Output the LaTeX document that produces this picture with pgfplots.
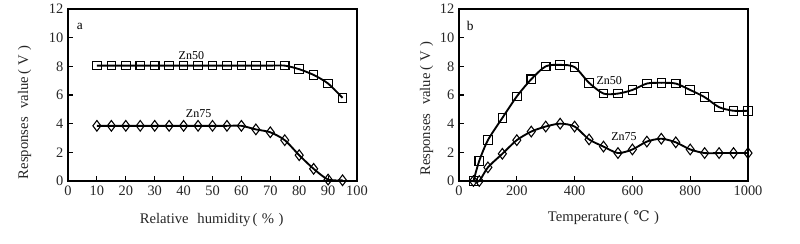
\documentclass[border=0pt]{standalone}
\usepackage{pgfplots}
\pgfplotsset{compat=1.18}
\usepackage{fontspec}
\setmainfont{Liberation Serif}
\newfontfamily\dejavu{DejaVu Serif}
\pgfplotstableread{
x y
10 8.05
15 8.05
20 8.05
25 8.05
30 8.05
35 8.05
40 8.05
45 8.05
50 8.05
55 8.05
60 8.05
65 8.05
70 8.05
75 8.05
80 7.8
85 7.4
90 6.8
95 5.8
}\leftA
\pgfplotstableread{
x y
10 3.85
15 3.85
20 3.85
25 3.85
30 3.85
35 3.85
40 3.85
45 3.85
50 3.85
55 3.85
60 3.85
65 3.6
70 3.4
75 2.85
80 1.8
85 0.85
90 0.1
95 0.05
}\leftB
\pgfplotstableread{
x y
50 0
70 1.4
100 2.85
150 4.4
200 5.9
250 7.1
300 8.0
350 8.1
400 7.95
450 6.85
500 6.1
550 6.1
600 6.35
650 6.8
700 6.85
750 6.8
800 6.35
850 5.85
900 5.15
950 4.9
1000 4.9
}\rightA
\pgfplotstableread{
x y
50 0
70 0
100 0.95
150 1.9
200 2.85
250 3.45
300 3.8
350 4.0
400 3.8
450 2.9
500 2.4
550 1.95
600 2.2
650 2.75
700 2.95
750 2.7
800 2.2
850 1.95
900 1.95
950 1.95
1000 1.95
}\rightB
\pgfplotsset{
  myaxis/.style={
    scale only axis, width=216.75pt, height=129pt,
    anchor=south west,
    ymin=0, ymax=12, ytick={0,2,...,12},
    tick align=inside, xtick pos=bottom, ytick pos=left,
    major tick length=3.5pt,
    axis line style={line width=1pt},
    every tick/.style={line width=0.8pt, black},
    tick label style={font=\fontsize{10.8}{12}\selectfont, text=black!85},
    label style={font=\fontsize{11}{13}\selectfont, text=black!85},
    /pgf/number format/assume math mode=true,
    /pgf/number format/1000 sep={},
    clip=false,
  },
  l50/.style={black, line width=1.4pt, smooth, tension=0.45, mark=square, mark size=3.2pt, mark options={line width=0.8pt, solid, fill=none}},
  l75/.style={black, line width=1.4pt, smooth, tension=0.45, mark=diamond, mark size=4pt, mark options={line width=0.8pt, solid, fill=none}},
}
\newcommand\paren[1]{\hspace{0.15em}(\hspace{0.3em}#1\hspace{0.3em})}
\begin{document}
\begin{tikzpicture}
\useasboundingbox (0,0) rectangle (600pt,182.25pt);
\begin{axis}[myaxis, at={(51pt,46.5pt)},
  xmin=0, xmax=100, xtick={0,10,...,100},
  xlabel={Relative\hspace{0.6em}humidity\paren{\%}},
  ylabel={Responses\hspace{0.6em}value\paren{V}},
  xlabel style={at={(axis description cs:0.497,-0.227)}, anchor=center},
  ylabel style={at={(axis description cs:-0.15,0.40)}, anchor=center},
]
\addplot[l50] table {\leftA};
\addplot[l75] table {\leftB};
\node[font=\fontsize{9}{10}\selectfont] at (axis cs:42.7,8.75) {Zn50};
\node[font=\fontsize{9}{10}\selectfont] at (axis cs:45.2,4.7) {Zn75};
\node[font=\fontsize{10}{11}\selectfont] at (axis cs:4.1,10.8) {a};
\end{axis}
\begin{axis}[myaxis, at={(344.25pt,46.5pt)},
  xmin=0, xmax=1000, xtick={0,200,...,1000},
  xlabel={Temperature\paren{{\dejavu ℃}}},
  ylabel={Responses\hspace{0.6em}value\paren{V}},
  xlabel style={at={(axis description cs:0.5,-0.21)}, anchor=center},
  ylabel style={at={(axis description cs:-0.112,0.42)}, anchor=center},
]
\addplot[l50] table {\rightA};
\addplot[l75] table {\rightB};
\node[font=\fontsize{9}{10}\selectfont] at (axis cs:520,7.0) {Zn50};
\node[font=\fontsize{9}{10}\selectfont] at (axis cs:571,3.1) {Zn75};
\node[font=\fontsize{10}{11}\selectfont] at (axis cs:39,10.8) {b};
\end{axis}
\end{tikzpicture}
\end{document}
